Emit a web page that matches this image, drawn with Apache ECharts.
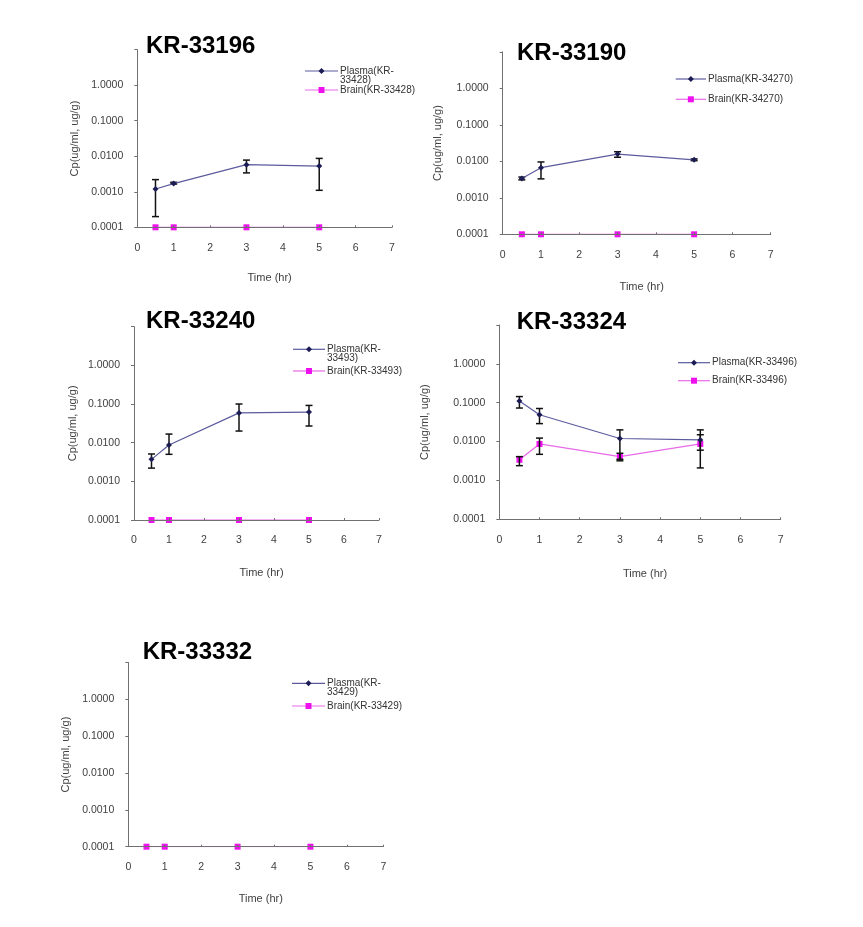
<!DOCTYPE html>
<html><head><meta charset="utf-8">
<script src="https://cdn.jsdelivr.net/npm/echarts@6/dist/echarts.min.js"></script>
<style>html,body{margin:0;padding:0;background:#fff}#c{width:863px;height:927px}</style>
</head><body><div id="c"></div>
<script>
// ---- data ----
const times = [0.5, 1, 3, 5];
const titles = ['KR-33196', 'KR-33190', 'KR-33240', 'KR-33324', 'KR-33332'];
const plasmaNames = ['Plasma(KR-33428)', 'Plasma(KR-34270)', 'Plasma(KR-33493)', 'Plasma(KR-33496)', 'Plasma(KR-33429)'];
const brainNames = ['Brain(KR-33428)', 'Brain(KR-34270)', 'Brain(KR-33493)', 'Brain(KR-33496)', 'Brain(KR-33429)'];
const plasmaLegendText = ['Plasma(KR-\n33428)', 'Plasma(KR-34270)', 'Plasma(KR-\n33493)', 'Plasma(KR-33496)', 'Plasma(KR-\n33429)'];

const plasma1 = [0.0012, 0.0017, 0.0058, 0.0053];
const plasma1Low = [0.0002, 0.00165, 0.0034, 0.0011];
const plasma1High = [0.0022, 0.00185, 0.0078, 0.0087];
const brain1 = [0.0001, 0.0001, 0.0001, 0.0001];

const plasma2 = [0.0034, 0.0067, 0.0158, 0.011];
const plasma2Low = [0.0031, 0.0033, 0.0129, 0.0104];
const plasma2High = [0.0037, 0.0096, 0.0183, 0.0116];
const brain2 = [0.0001, 0.0001, 0.0001, 0.0001];

const plasma3 = [0.0037, 0.0087, 0.059, 0.062];
const plasma3Low = [0.0022, 0.005, 0.02, 0.027];
const plasma3High = [0.0051, 0.0167, 0.1, 0.092];
const brain3 = [0.0001, 0.0001, 0.0001, 0.0001];

const plasma4 = [0.11, 0.049, 0.012, 0.011];
const plasma4Low = [0.073, 0.029, 0.0035, 0.006];
const plasma4High = [0.144, 0.071, 0.02, 0.02];
const brain4 = [0.0034, 0.0087, 0.0041, 0.0087];
const brain4Low = [0.0024, 0.0047, 0.0032, 0.0021];
const brain4High = [0.0041, 0.0123, 0.005, 0.015];

const plasma5 = [];
const brain5 = [0.0001, 0.0001, 0.0001, 0.0001];

const yTicks = [0.0001, 0.001, 0.01, 0.1, 1];
const xTicks = [0, 1, 2, 3, 4, 5, 6, 7];

// ---- layout ----
const panels = [
  {grid:{left:137.3, top:49.7, width:254.7, height:177.6}, title:{left:146, top:34}, yGap:57, xGap:45,
   leg:{x:305, y1:71, y2:90, tx:340}, plasma:plasma1, pl:plasma1Low, ph:plasma1High, brain:brain1},
  {grid:{left:502.7, top:51.8, width:268, height:182.5}, title:{left:517, top:41}, yGap:59, xGap:47,
   leg:{x:675.7, y1:79, y2:99.3, tx:708}, plasma:plasma2, pl:plasma2Low, ph:plasma2High, brain:brain2},
  {grid:{left:134, top:326.7, width:245, height:193.3}, title:{left:146, top:309}, yGap:56, xGap:47,
   leg:{x:293, y1:349.3, y2:371, tx:327}, plasma:plasma3, pl:plasma3Low, ph:plasma3High, brain:brain3},
  {grid:{left:499.3, top:325, width:281.4, height:194.3}, title:{left:516.7, top:310}, yGap:69, xGap:49,
   leg:{x:678, y1:362.7, y2:380.7, tx:712}, plasma:plasma4, pl:plasma4Low, ph:plasma4High, brain:brain4, bl:brain4Low, bh:brain4High},
  {grid:{left:128.3, top:662.5, width:255, height:184.2}, title:{left:142.7, top:640}, yGap:57, xGap:47,
   leg:{x:292, y1:683.3, y2:706, tx:327}, plasma:plasma5, pl:[], ph:[], brain:brain5}
];

const PL_LINE = '#5b5b9e', PL_MARK = '#1c1c55', BR = '#ee11ee', BR_LINE = '#e86ae8', ERR = '#111111';
const axisColor = '#707070', labelColor = '#404040', FONT = 'Liberation Sans, Arial, sans-serif';

const option = {animation:false, backgroundColor:'#fff', title:[], grid:[], xAxis:[], yAxis:[], series:[], graphic:[]};

function errSeries(i, lo, hi) {
  return {
    type:'custom', xAxisIndex:i, yAxisIndex:i, z:4,
    data: times.slice(0, lo.length).map((t, k) => [t, lo[k], hi[k]]),
    renderItem: (params, api) => {
      const top = api.coord([api.value(0), api.value(2)]);
      const bot = api.coord([api.value(0), api.value(1)]);
      const w = 3.5;
      const st = {stroke: ERR, lineWidth: 1.5};
      return {type:'group', children:[
        {type:'line', shape:{x1:top[0], y1:top[1], x2:bot[0], y2:bot[1]}, style:st},
        {type:'line', shape:{x1:top[0]-w, y1:top[1], x2:top[0]+w, y2:top[1]}, style:st},
        {type:'line', shape:{x1:bot[0]-w, y1:bot[1], x2:bot[0]+w, y2:bot[1]}, style:st}
      ]};
    }
  };
}

panels.forEach((p, i) => {
  option.grid.push(Object.assign({containLabel:false}, p.grid));
  option.title.push({text:titles[i], left:p.title.left, top:p.title.top, padding:0,
    textStyle:{fontFamily:FONT, fontWeight:'bold', fontSize:24, color:'#000'}});
  option.xAxis.push({type:'value', gridIndex:i, min:0, max:7, interval:1, z:3,
    name:'Time (hr)', nameLocation:'middle', nameGap:p.xGap,
    nameTextStyle:{fontFamily:FONT, fontSize:11, color:labelColor, padding:[0,0,0,10]},
    axisLine:{show:true, onZero:false, lineStyle:{color:axisColor, width:1}},
    axisTick:{show:true, inside:true, length:2, lineStyle:{color:axisColor}},
    axisLabel:{fontFamily:FONT, fontSize:10.5, color:labelColor, margin:15},
    splitLine:{show:false}});
  option.yAxis.push({type:'log', logBase:10, gridIndex:i, min:0.0001, max:10, z:3,
    name:'Cp(ug/ml, ug/g)', nameLocation:'middle', nameGap:p.yGap,
    nameTextStyle:{fontFamily:FONT, fontSize:11, color:labelColor},
    axisLine:{show:true, lineStyle:{color:axisColor, width:1}},
    axisTick:{show:true, length:3, lineStyle:{color:axisColor}},
    axisLabel:{fontFamily:FONT, fontSize:10.5, color:labelColor, margin:14,
      formatter: v => (v > 5 ? '' : Number(v).toFixed(4))},
    splitLine:{show:false}});
  if (p.plasma.length) {
    option.series.push(errSeries(i, p.pl, p.ph));
    option.series.push({type:'line', name:plasmaNames[i], xAxisIndex:i, yAxisIndex:i, z:5,
      data: times.map((t, k) => [t, p.plasma[k]]),
      symbol:'diamond', symbolSize:6, lineStyle:{color:PL_LINE, width:1.2},
      itemStyle:{color:PL_MARK}});
  }
  if (p.bl) option.series.push(errSeries(i, p.bl, p.bh));
  option.series.push({type:'line', name:brainNames[i], xAxisIndex:i, yAxisIndex:i, z:2,
    data: times.map((t, k) => [t, p.brain[k]]),
    symbol:'rect', symbolSize:6, lineStyle:{color:BR_LINE, width:1.2},
    itemStyle:{color:BR}});

  // legend drawn as graphic
  const L = p.leg, x2 = L.tx - 2, mx = (L.x + x2) / 2;
  option.graphic.push(
    {type:'line', shape:{x1:L.x, y1:L.y1, x2:x2, y2:L.y1}, style:{stroke:PL_LINE, lineWidth:1.2}},
    {type:'polygon', shape:{points:[[mx, L.y1-3],[mx+3, L.y1],[mx, L.y1+3],[mx-3, L.y1]]}, style:{fill:PL_MARK}},
    {type:'text', x:L.tx, y:L.y1 - 4.5, style:{text:plasmaLegendText[i], font:'10px ' + FONT, fill:'#333', lineHeight:9, textVerticalAlign:'top'}},
    {type:'line', shape:{x1:L.x, y1:L.y2, x2:x2, y2:L.y2}, style:{stroke:BR_LINE, lineWidth:1.2}},
    {type:'rect', shape:{x:mx-3, y:L.y2-3, width:6, height:6}, style:{fill:BR}},
    {type:'text', x:L.tx, y:L.y2 - 4.5, style:{text:brainNames[i], font:'10px ' + FONT, fill:'#333', lineHeight:9, textVerticalAlign:'top'}}
  );
});

const chart = echarts.init(document.getElementById('c'), null, {renderer:'canvas'});
chart.setOption(option);
</script>
</body></html>
